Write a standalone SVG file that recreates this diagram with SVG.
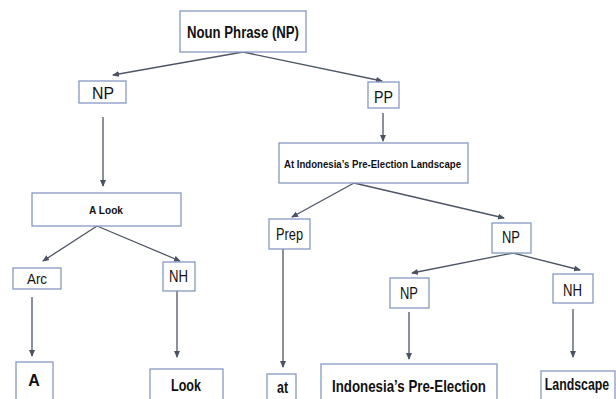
<svg xmlns="http://www.w3.org/2000/svg" width="616" height="399" viewBox="0 0 616 399">
<defs>
<marker id="ah" markerUnits="userSpaceOnUse" markerWidth="7" markerHeight="6" refX="6" refY="3" orient="auto">
<path d="M0,0 L7,3 L0,6 z" fill="#4a5263"/>
</marker>
<style>
.box{fill:#ffffff;stroke:#8699c4;stroke-width:1.3}
.t{font-family:"Liberation Sans",Arial,sans-serif;fill:#111;text-anchor:middle}
.b{font-weight:bold}
.c{stroke:#4d5566;stroke-width:1.3;fill:none;marker-end:url(#ah)}
</style>
</defs>
<rect width="616" height="399" fill="#ffffff"/>
<g id="connectors">
<line class="c" x1="243" y1="52" x2="113" y2="75"/>
<line class="c" x1="243" y1="52" x2="382" y2="81"/>
<line class="c" x1="103" y1="117" x2="103" y2="186"/>
<line class="c" x1="383" y1="113" x2="383" y2="141"/>
<line class="c" x1="97" y1="226" x2="43" y2="261"/>
<line class="c" x1="97" y1="226" x2="180" y2="261"/>
<line class="c" x1="32" y1="297" x2="32" y2="356"/>
<line class="c" x1="177" y1="291" x2="177" y2="357"/>
<line class="c" x1="354" y1="183" x2="292" y2="217"/>
<line class="c" x1="354" y1="183" x2="504" y2="218"/>
<line class="c" x1="283" y1="249" x2="283" y2="367"/>
<line class="c" x1="513" y1="253" x2="412" y2="273"/>
<line class="c" x1="513" y1="253" x2="580" y2="270"/>
<line class="c" x1="409" y1="312" x2="409" y2="359"/>
<line class="c" x1="573" y1="309" x2="573" y2="357"/>
</g>
<g id="n-root">
<rect class="box" x="180" y="11" width="126" height="41"/>
<text class="t b" x="243" y="38" font-size="16" textLength="112" lengthAdjust="spacingAndGlyphs">Noun Phrase (NP)</text>
</g>
<g id="n-np1">
<rect class="box" x="79" y="81" width="47" height="22"/>
<text class="t" x="103" y="99" font-size="17" textLength="22" lengthAdjust="spacingAndGlyphs">NP</text>
</g>
<g id="n-pp">
<rect class="box" x="368" y="82" width="31" height="26"/>
<text class="t" x="383.5" y="103" font-size="17" textLength="19" lengthAdjust="spacingAndGlyphs">PP</text>
</g>
<g id="n-pphrase">
<rect class="box" x="279" y="143" width="189" height="40"/>
<text class="t b" x="372.5" y="168" font-size="11" textLength="177" lengthAdjust="spacingAndGlyphs">At Indonesia’s Pre-Election Landscape</text>
</g>
<g id="n-alook">
<rect class="box" x="32" y="193" width="149" height="33"/>
<text class="t b" x="106" y="214" font-size="11" textLength="34" lengthAdjust="spacingAndGlyphs">A Look</text>
</g>
<g id="n-arc">
<rect class="box" x="13" y="268" width="48" height="21"/>
<text class="t" x="37" y="284" font-size="15" textLength="20" lengthAdjust="spacingAndGlyphs">Arc</text>
</g>
<g id="n-nh1">
<rect class="box" x="163" y="262" width="32" height="29"/>
<text class="t" x="178.5" y="282" font-size="16" textLength="19" lengthAdjust="spacingAndGlyphs">NH</text>
</g>
<g id="n-a">
<rect class="box" x="16" y="362" width="37" height="45"/>
<text class="t b" x="34" y="386" font-size="16">A</text>
</g>
<g id="n-look">
<rect class="box" x="150" y="369" width="73" height="40"/>
<text class="t b" x="186" y="391" font-size="17" textLength="30" lengthAdjust="spacingAndGlyphs">Look</text>
</g>
<g id="n-prep">
<rect class="box" x="269" y="219" width="41" height="30"/>
<text class="t" x="289.5" y="240" font-size="16" textLength="27" lengthAdjust="spacingAndGlyphs">Prep</text>
</g>
<g id="n-np2">
<rect class="box" x="492" y="223" width="39" height="30"/>
<text class="t" x="511" y="243" font-size="16" textLength="18" lengthAdjust="spacingAndGlyphs">NP</text>
</g>
<g id="n-np3">
<rect class="box" x="390" y="278" width="39" height="30"/>
<text class="t" x="409" y="299" font-size="16" textLength="18" lengthAdjust="spacingAndGlyphs">NP</text>
</g>
<g id="n-nh2">
<rect class="box" x="553" y="274" width="40" height="29"/>
<text class="t" x="572.5" y="296" font-size="16" textLength="19" lengthAdjust="spacingAndGlyphs">NH</text>
</g>
<g id="n-at">
<rect class="box" x="267" y="374" width="29" height="35"/>
<text class="t b" x="282.5" y="393" font-size="16" textLength="11" lengthAdjust="spacingAndGlyphs">at</text>
</g>
<g id="n-indo">
<rect class="box" x="321" y="364" width="176" height="45"/>
<text class="t b" x="409" y="392" font-size="17" textLength="154" lengthAdjust="spacingAndGlyphs">Indonesia’s Pre-Election</text>
</g>
<g id="n-land">
<rect class="box" x="541" y="371" width="74" height="40"/>
<text class="t b" transform="translate(577,390) scale(0.77,1)" x="0" y="0" font-size="16">Landscape</text>
</g>
</svg>
